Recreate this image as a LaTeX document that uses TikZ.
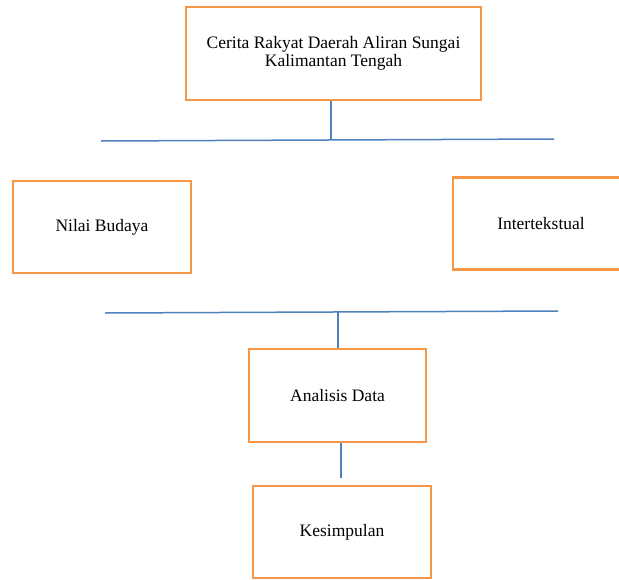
\documentclass[tikz,border=0pt]{standalone}
\usepackage{fontspec}
\setmainfont{Liberation Serif}
\usetikzlibrary{positioning}
\definecolor{boxorange}{HTML}{F79646}
\definecolor{lineblue}{HTML}{4F81BD}

\begin{document}
\begin{tikzpicture}[x=1pt, y=-1pt,
    box/.style={draw=boxorange, line width=2.2pt, minimum height=92pt, inner sep=0pt, align=center, font=\fontsize{17.5}{18.5}\selectfont},
    link/.style={draw=lineblue, line width=1.5pt}
]
    \useasboundingbox (0,0) rectangle (619,579);

    % Boxes
    \node[box, minimum width=295pt, minimum height=93pt] (cerita) at (333.5,53.5) {Cerita Rakyat Daerah Aliran Sungai\\Kalimantan Tengah};
    \node[box, minimum width=178pt] (nilai) at (102,227) {Nilai Budaya};
    \node[box, minimum width=176pt] (inter) at (541,223.5) {Intertekstual};
    \node[box, minimum width=177pt, minimum height=93pt] (analisis) at (337.5,395.5) {Analisis Data};
    \node[box, minimum width=178pt] (kesimpulan) at (342,532) {Kesimpulan};

    % Upper bar
    \coordinate (barAL) at (101,141);
    \coordinate (barAR) at (554,139);
    \coordinate (barAM) at (331,140);
    \draw[link] (barAL) -- (barAR);
    \draw[link] (barAM |- cerita.south) -- (barAM);

    % Lower bar
    \coordinate (barBL) at (105,313);
    \coordinate (barBR) at (558,311);
    \coordinate (barBM) at (338,312);
    \draw[link] (barBL) -- (barBR);
    \draw[link] (barBM) -- (barBM |- analisis.north);

    % Analisis to Kesimpulan
    \coordinate (gapend) at (341,478);
    \draw[link] (gapend |- analisis.south) -- (gapend);
\end{tikzpicture}
\end{document}
